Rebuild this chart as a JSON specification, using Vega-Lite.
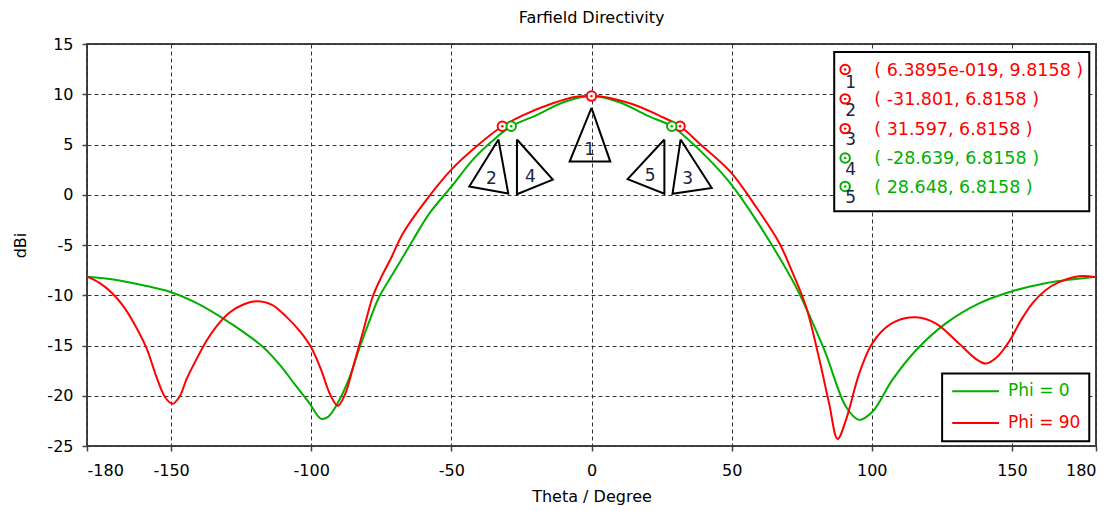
{
  "$schema": "https://vega.github.io/schema/vega-lite/v6.json",
  "width": 1009,
  "height": 402,
  "autosize": {"type": "none"},
  "padding": {"left": 87, "top": 44, "right": 19, "bottom": 65},
  "background": "white",
  "title": {"text": "Farfield Directivity", "font": "DejaVu Sans", "fontSize": 16, "fontWeight": "normal", "color": "black", "offset": 10},
  "config": {
    "view": {"stroke": "#444", "strokeWidth": 2},
    "axis": {
      "labelFont": "DejaVu Sans", "labelFontSize": 16, "labelColor": "black",
      "titleFont": "DejaVu Sans", "titleFontSize": 16, "titleFontWeight": "normal", "titleColor": "black",
      "domain": false, "tickColor": "#444", "tickSize": 5, "tickWidth": 1.5,
      "grid": true, "gridColor": "#333", "gridDash": [4, 3], "gridOpacity": 1, "gridWidth": 1,
      "labelExpr": "'' + datum.value"
    },
    "text": {"font": "DejaVu Sans"}
  },
  "datasets": {
    "curves": [
      {"phi": "Phi = 0", "theta": -180, "dbi": -8.15},
      {"phi": "Phi = 0", "theta": -170, "dbi": -8.45},
      {"phi": "Phi = 0", "theta": -160, "dbi": -9.0},
      {"phi": "Phi = 0", "theta": -150, "dbi": -9.7},
      {"phi": "Phi = 0", "theta": -140, "dbi": -10.9},
      {"phi": "Phi = 0", "theta": -131.5, "dbi": -12.3},
      {"phi": "Phi = 0", "theta": -124, "dbi": -13.7},
      {"phi": "Phi = 0", "theta": -117, "dbi": -15.2},
      {"phi": "Phi = 0", "theta": -111, "dbi": -17.0},
      {"phi": "Phi = 0", "theta": -105.5, "dbi": -19.0},
      {"phi": "Phi = 0", "theta": -100.5, "dbi": -20.8},
      {"phi": "Phi = 0", "theta": -96.5, "dbi": -22.3},
      {"phi": "Phi = 0", "theta": -94, "dbi": -22.1},
      {"phi": "Phi = 0", "theta": -90.9, "dbi": -20.9},
      {"phi": "Phi = 0", "theta": -86.5, "dbi": -18.3},
      {"phi": "Phi = 0", "theta": -82.6, "dbi": -15.1},
      {"phi": "Phi = 0", "theta": -79, "dbi": -12.4},
      {"phi": "Phi = 0", "theta": -76, "dbi": -10.3},
      {"phi": "Phi = 0", "theta": -72.5, "dbi": -8.6},
      {"phi": "Phi = 0", "theta": -69, "dbi": -7.0},
      {"phi": "Phi = 0", "theta": -63.7, "dbi": -4.5},
      {"phi": "Phi = 0", "theta": -57.7, "dbi": -1.8},
      {"phi": "Phi = 0", "theta": -50, "dbi": 0.8},
      {"phi": "Phi = 0", "theta": -42.3, "dbi": 3.5},
      {"phi": "Phi = 0", "theta": -35.2, "dbi": 5.4},
      {"phi": "Phi = 0", "theta": -28.639, "dbi": 6.8158},
      {"phi": "Phi = 0", "theta": -19.7, "dbi": 7.9},
      {"phi": "Phi = 0", "theta": -10, "dbi": 9.2},
      {"phi": "Phi = 0", "theta": 0, "dbi": 9.8158},
      {"phi": "Phi = 0", "theta": 10, "dbi": 9.2},
      {"phi": "Phi = 0", "theta": 19.7, "dbi": 7.9},
      {"phi": "Phi = 0", "theta": 28.648, "dbi": 6.8158},
      {"phi": "Phi = 0", "theta": 33.7, "dbi": 5.7},
      {"phi": "Phi = 0", "theta": 42, "dbi": 3.5},
      {"phi": "Phi = 0", "theta": 49.5, "dbi": 1.15},
      {"phi": "Phi = 0", "theta": 58.7, "dbi": -2.5},
      {"phi": "Phi = 0", "theta": 68.2, "dbi": -6.8},
      {"phi": "Phi = 0", "theta": 74.1, "dbi": -9.8},
      {"phi": "Phi = 0", "theta": 79, "dbi": -12.8},
      {"phi": "Phi = 0", "theta": 83.6, "dbi": -15.8},
      {"phi": "Phi = 0", "theta": 90.8, "dbi": -21.1},
      {"phi": "Phi = 0", "theta": 95.5, "dbi": -22.4},
      {"phi": "Phi = 0", "theta": 100.2, "dbi": -21.6},
      {"phi": "Phi = 0", "theta": 107.4, "dbi": -18.4},
      {"phi": "Phi = 0", "theta": 115.7, "dbi": -15.5},
      {"phi": "Phi = 0", "theta": 126.4, "dbi": -12.8},
      {"phi": "Phi = 0", "theta": 138.3, "dbi": -10.8},
      {"phi": "Phi = 0", "theta": 150.1, "dbi": -9.6},
      {"phi": "Phi = 0", "theta": 162, "dbi": -8.8},
      {"phi": "Phi = 0", "theta": 172, "dbi": -8.4},
      {"phi": "Phi = 0", "theta": 180, "dbi": -8.15},
      {"phi": "Phi = 90", "theta": -180, "dbi": -8.15},
      {"phi": "Phi = 90", "theta": -175.4, "dbi": -8.8},
      {"phi": "Phi = 90", "theta": -171, "dbi": -9.8},
      {"phi": "Phi = 90", "theta": -167, "dbi": -11.1},
      {"phi": "Phi = 90", "theta": -163, "dbi": -12.9},
      {"phi": "Phi = 90", "theta": -158.7, "dbi": -15.3},
      {"phi": "Phi = 90", "theta": -155, "dbi": -18.3},
      {"phi": "Phi = 90", "theta": -152, "dbi": -20.2},
      {"phi": "Phi = 90", "theta": -149.5, "dbi": -20.8},
      {"phi": "Phi = 90", "theta": -147, "dbi": -20.1},
      {"phi": "Phi = 90", "theta": -144.4, "dbi": -18.3},
      {"phi": "Phi = 90", "theta": -141, "dbi": -16.4},
      {"phi": "Phi = 90", "theta": -137.5, "dbi": -14.6},
      {"phi": "Phi = 90", "theta": -133.5, "dbi": -13.0},
      {"phi": "Phi = 90", "theta": -129, "dbi": -11.7},
      {"phi": "Phi = 90", "theta": -124, "dbi": -10.9},
      {"phi": "Phi = 90", "theta": -119.5, "dbi": -10.6},
      {"phi": "Phi = 90", "theta": -114, "dbi": -10.95},
      {"phi": "Phi = 90", "theta": -109, "dbi": -12.1},
      {"phi": "Phi = 90", "theta": -104, "dbi": -13.6},
      {"phi": "Phi = 90", "theta": -100, "dbi": -15.2},
      {"phi": "Phi = 90", "theta": -96.5, "dbi": -17.4},
      {"phi": "Phi = 90", "theta": -93.2, "dbi": -19.9},
      {"phi": "Phi = 90", "theta": -90.5, "dbi": -21.0},
      {"phi": "Phi = 90", "theta": -88, "dbi": -19.9},
      {"phi": "Phi = 90", "theta": -85, "dbi": -17.1},
      {"phi": "Phi = 90", "theta": -81.5, "dbi": -13.6},
      {"phi": "Phi = 90", "theta": -78, "dbi": -10.1},
      {"phi": "Phi = 90", "theta": -75, "dbi": -8.2},
      {"phi": "Phi = 90", "theta": -71.5, "dbi": -6.3},
      {"phi": "Phi = 90", "theta": -67.2, "dbi": -3.8},
      {"phi": "Phi = 90", "theta": -58.9, "dbi": -0.5},
      {"phi": "Phi = 90", "theta": -50, "dbi": 2.5},
      {"phi": "Phi = 90", "theta": -41.1, "dbi": 4.8},
      {"phi": "Phi = 90", "theta": -31.801, "dbi": 6.8158},
      {"phi": "Phi = 90", "theta": -24.5, "dbi": 7.9},
      {"phi": "Phi = 90", "theta": -13.8, "dbi": 9.1},
      {"phi": "Phi = 90", "theta": -5.5, "dbi": 9.75},
      {"phi": "Phi = 90", "theta": 0, "dbi": 9.8158},
      {"phi": "Phi = 90", "theta": 4, "dbi": 9.75},
      {"phi": "Phi = 90", "theta": 14.7, "dbi": 9.0},
      {"phi": "Phi = 90", "theta": 24, "dbi": 7.9},
      {"phi": "Phi = 90", "theta": 31.597, "dbi": 6.8158},
      {"phi": "Phi = 90", "theta": 38.5, "dbi": 5.1},
      {"phi": "Phi = 90", "theta": 49.5, "dbi": 2.3},
      {"phi": "Phi = 90", "theta": 58.7, "dbi": -1.2},
      {"phi": "Phi = 90", "theta": 67, "dbi": -4.8},
      {"phi": "Phi = 90", "theta": 71.2, "dbi": -7.4},
      {"phi": "Phi = 90", "theta": 76.5, "dbi": -11.1},
      {"phi": "Phi = 90", "theta": 81.3, "dbi": -16.4},
      {"phi": "Phi = 90", "theta": 84.8, "dbi": -20.8},
      {"phi": "Phi = 90", "theta": 87.8, "dbi": -24.3},
      {"phi": "Phi = 90", "theta": 90.8, "dbi": -22.4},
      {"phi": "Phi = 90", "theta": 95.5, "dbi": -17.8},
      {"phi": "Phi = 90", "theta": 99.7, "dbi": -15.0},
      {"phi": "Phi = 90", "theta": 103.5, "dbi": -13.6},
      {"phi": "Phi = 90", "theta": 108.5, "dbi": -12.6},
      {"phi": "Phi = 90", "theta": 115.7, "dbi": -12.2},
      {"phi": "Phi = 90", "theta": 122.8, "dbi": -12.8},
      {"phi": "Phi = 90", "theta": 131.1, "dbi": -14.8},
      {"phi": "Phi = 90", "theta": 137, "dbi": -16.3},
      {"phi": "Phi = 90", "theta": 140.7, "dbi": -16.8},
      {"phi": "Phi = 90", "theta": 144.5, "dbi": -16.2},
      {"phi": "Phi = 90", "theta": 149, "dbi": -14.6},
      {"phi": "Phi = 90", "theta": 153, "dbi": -12.6},
      {"phi": "Phi = 90", "theta": 157.3, "dbi": -10.8},
      {"phi": "Phi = 90", "theta": 162, "dbi": -9.5},
      {"phi": "Phi = 90", "theta": 166.8, "dbi": -8.7},
      {"phi": "Phi = 90", "theta": 173.9, "dbi": -8.1},
      {"phi": "Phi = 90", "theta": 180, "dbi": -8.2}
    ],
    "markers": [
      {"id": "1", "phi": "Phi = 90", "theta": 0, "dbi": 9.8158},
      {"id": "2", "phi": "Phi = 90", "theta": -31.801, "dbi": 6.8158},
      {"id": "3", "phi": "Phi = 90", "theta": 31.597, "dbi": 6.8158},
      {"id": "4", "phi": "Phi = 0", "theta": -28.639, "dbi": 6.8158},
      {"id": "5", "phi": "Phi = 0", "theta": 28.648, "dbi": 6.8158}
    ],
    "triangles": [
      {"tri": "1", "k": 0, "theta": 0, "dbi": 8.64},
      {"tri": "1", "k": 1, "theta": -7.8, "dbi": 3.3},
      {"tri": "1", "k": 2, "theta": 6.7, "dbi": 3.3},
      {"tri": "1", "k": 3, "theta": 0, "dbi": 8.64},
      {"tri": "2", "k": 0, "theta": -33.2, "dbi": 5.5},
      {"tri": "2", "k": 1, "theta": -43.6, "dbi": 0.83},
      {"tri": "2", "k": 2, "theta": -29.7, "dbi": 0.12},
      {"tri": "2", "k": 3, "theta": -33.2, "dbi": 5.5},
      {"tri": "4", "k": 0, "theta": -26.6, "dbi": 5.5},
      {"tri": "4", "k": 1, "theta": -26.6, "dbi": 0.05},
      {"tri": "4", "k": 2, "theta": -13.8, "dbi": 1.5},
      {"tri": "4", "k": 3, "theta": -26.6, "dbi": 5.5},
      {"tri": "5", "k": 0, "theta": 26.0, "dbi": 5.5},
      {"tri": "5", "k": 1, "theta": 26.0, "dbi": 0.1},
      {"tri": "5", "k": 2, "theta": 12.9, "dbi": 1.56},
      {"tri": "5", "k": 3, "theta": 26.0, "dbi": 5.5},
      {"tri": "3", "k": 0, "theta": 31.8, "dbi": 5.5},
      {"tri": "3", "k": 1, "theta": 28.9, "dbi": 0.1},
      {"tri": "3", "k": 2, "theta": 42.9, "dbi": 0.67},
      {"tri": "3", "k": 3, "theta": 31.8, "dbi": 5.5}
    ],
    "triLabels": [
      {"id": "1", "theta": -0.7, "dbi": 4.5},
      {"id": "2", "theta": -35.7, "dbi": 1.6},
      {"id": "4", "theta": -21.8, "dbi": 1.8},
      {"id": "5", "theta": 20.9, "dbi": 1.9},
      {"id": "3", "theta": 34.3, "dbi": 1.6}
    ],
    "boxes": [
      {"theta": 86.6, "theta2": 177.6, "dbi": 14.2, "dbi2": -1.65},
      {"theta": 125.1, "theta2": 177.6, "dbi": -17.78, "dbi2": -24.53}
    ],
    "boxMarkers": [
      {"id": "1", "phi": "Phi = 90", "theta": 90.5, "dbi": 12.46},
      {"id": "2", "phi": "Phi = 90", "theta": 90.5, "dbi": 9.54},
      {"id": "3", "phi": "Phi = 90", "theta": 90.5, "dbi": 6.58},
      {"id": "4", "phi": "Phi = 0", "theta": 90.5, "dbi": 3.66},
      {"id": "5", "phi": "Phi = 0", "theta": 90.5, "dbi": 0.83}
    ],
    "boxNumbers": [
      {"id": "1", "theta": 92.5, "dbi": 11.14},
      {"id": "2", "theta": 92.5, "dbi": 8.31},
      {"id": "3", "theta": 92.5, "dbi": 5.41},
      {"id": "4", "theta": 92.5, "dbi": 2.49},
      {"id": "5", "theta": 92.5, "dbi": -0.33}
    ],
    "boxTexts": [
      {"phi": "Phi = 90", "text": "( 6.3895e-019, 9.8158 )", "theta": 100.9, "dbi": 12.35},
      {"phi": "Phi = 90", "text": "( -31.801, 6.8158 )", "theta": 100.9, "dbi": 9.42},
      {"phi": "Phi = 90", "text": "( 31.597, 6.8158 )", "theta": 100.9, "dbi": 6.47},
      {"phi": "Phi = 0", "text": "( -28.639, 6.8158 )", "theta": 100.9, "dbi": 3.56},
      {"phi": "Phi = 0", "text": "( 28.648, 6.8158 )", "theta": 100.9, "dbi": 0.72}
    ],
    "legendLines": [
      {"phi": "Phi = 0", "theta": 128.7, "theta2": 145.4, "dbi": -19.54},
      {"phi": "Phi = 90", "theta": 128.7, "theta2": 145.4, "dbi": -22.7}
    ],
    "legendLabels": [
      {"phi": "Phi = 0", "theta": 148.6, "dbi": -19.54},
      {"phi": "Phi = 90", "theta": 148.6, "dbi": -22.7}
    ]
  },
  "encoding": {
    "x": {
      "field": "theta", "type": "quantitative",
      "scale": {"domain": [-180, 180], "nice": false, "zero": false},
      "axis": {"title": "Theta / Degree", "values": [-180, -150, -100, -50, 0, 50, 100, 150, 180], "labelPadding": 11, "titlePadding": 10, "labelOverlap": false}
    },
    "y": {
      "field": "dbi", "type": "quantitative",
      "scale": {"domain": [-25, 15], "nice": false, "zero": false},
      "axis": {"title": "dBi", "values": [-25, -20, -15, -10, -5, 0, 5, 10, 15], "labelPadding": 9, "titlePadding": 18}
    }
  },
  "layer": [
    {
      "data": {"name": "curves"},
      "mark": {"type": "line", "strokeWidth": 2, "interpolate": "catmull-rom"},
      "encoding": {
        "color": {"field": "phi", "type": "nominal", "scale": {"domain": ["Phi = 0", "Phi = 90"], "range": ["#00b000", "#ff0000"]}, "legend": null}
      }
    },
    {
      "data": {"name": "triangles"},
      "mark": {"type": "line", "strokeWidth": 2, "color": "black"},
      "encoding": {
        "detail": {"field": "tri", "type": "nominal"},
        "order": {"field": "k", "type": "quantitative"}
      }
    },
    {
      "data": {"name": "triLabels"},
      "mark": {"type": "text", "fontSize": 17, "color": "#1c2340", "align": "center", "baseline": "middle"},
      "encoding": {"text": {"field": "id", "type": "nominal"}}
    },
    {
      "data": {"name": "markers"},
      "mark": {"type": "point", "shape": "circle", "size": 90, "strokeWidth": 2, "fill": "white", "fillOpacity": 1, "opacity": 1},
      "encoding": {
        "stroke": {"field": "phi", "type": "nominal", "scale": {"domain": ["Phi = 0", "Phi = 90"], "range": ["#00b000", "#ff0000"]}, "legend": null}
      }
    },
    {
      "data": {"name": "markers"},
      "mark": {"type": "point", "shape": "circle", "size": 6, "filled": true, "opacity": 1},
      "encoding": {
        "color": {"field": "phi", "type": "nominal", "legend": null}
      }
    },
    {
      "data": {"name": "boxes"},
      "mark": {"type": "rect", "fill": "white", "stroke": "black", "strokeWidth": 2},
      "encoding": {
        "x2": {"field": "theta2"},
        "y2": {"field": "dbi2"}
      }
    },
    {
      "data": {"name": "boxMarkers"},
      "mark": {"type": "point", "shape": "circle", "size": 90, "strokeWidth": 2, "fill": "white", "fillOpacity": 1, "opacity": 1},
      "encoding": {
        "stroke": {"field": "phi", "type": "nominal", "legend": null}
      }
    },
    {
      "data": {"name": "boxMarkers"},
      "mark": {"type": "point", "shape": "circle", "size": 6, "filled": true, "opacity": 1},
      "encoding": {
        "color": {"field": "phi", "type": "nominal", "legend": null}
      }
    },
    {
      "data": {"name": "boxNumbers"},
      "mark": {"type": "text", "fontSize": 17, "color": "#1c2340", "align": "center", "baseline": "middle"},
      "encoding": {"text": {"field": "id", "type": "nominal"}}
    },
    {
      "data": {"name": "boxTexts"},
      "mark": {"type": "text", "fontSize": 17.5, "align": "left", "baseline": "middle"},
      "encoding": {
        "text": {"field": "text", "type": "nominal"},
        "color": {"field": "phi", "type": "nominal", "legend": null}
      }
    },
    {
      "data": {"name": "legendLines"},
      "mark": {"type": "rule", "strokeWidth": 2},
      "encoding": {
        "x2": {"field": "theta2"},
        "color": {"field": "phi", "type": "nominal", "legend": null}
      }
    },
    {
      "data": {"name": "legendLabels"},
      "mark": {"type": "text", "fontSize": 17, "align": "left", "baseline": "middle"},
      "encoding": {
        "text": {"field": "phi", "type": "nominal"},
        "color": {"field": "phi", "type": "nominal", "legend": null}
      }
    }
  ]
}
